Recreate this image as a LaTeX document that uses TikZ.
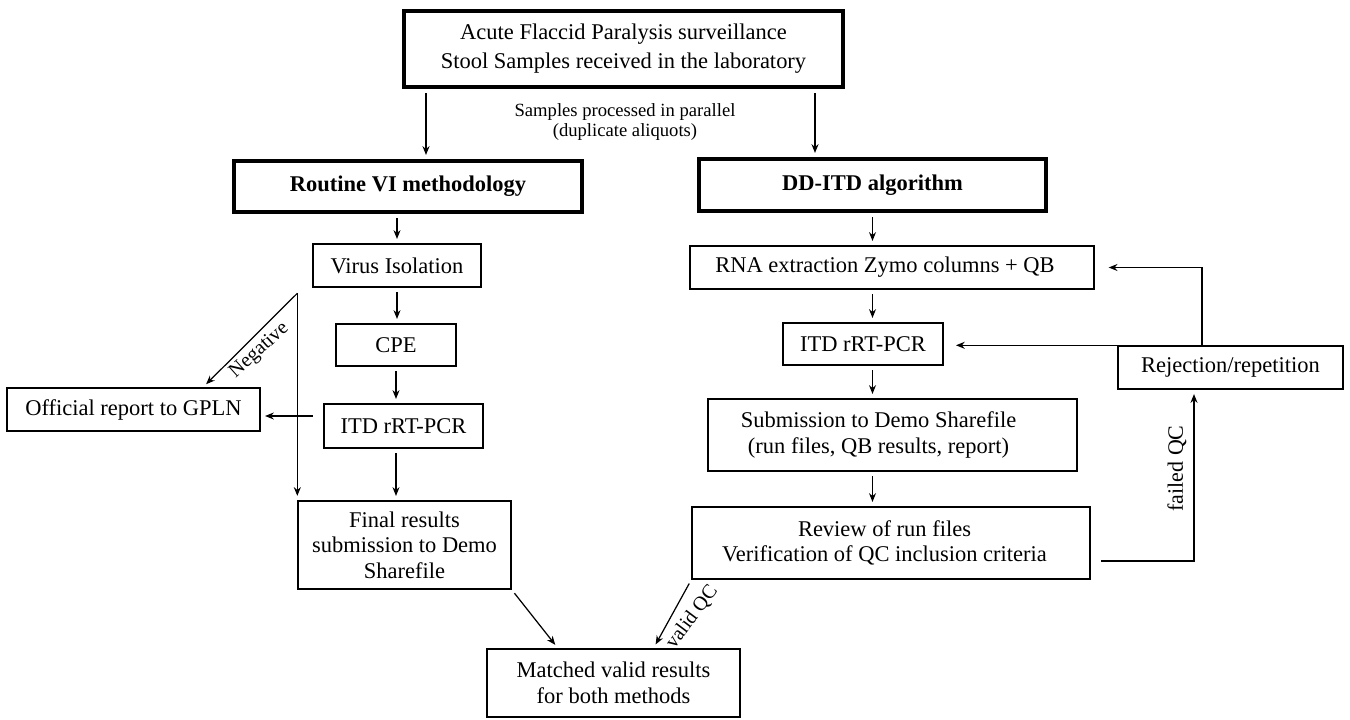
\documentclass[tikz,border=0pt]{standalone}
\usepackage{fontspec}
\setmainfont{Liberation Serif}
\usetikzlibrary{arrows.meta, calc}

\newcommand{\boxsize}{\fontsize{12.8}{14.5}\selectfont}
\newcommand{\labsize}{\fontsize{11.4}{13}\selectfont}

\begin{document}
\begin{tikzpicture}[x=0.02cm, y=-0.02cm,
  box/.style={draw, line width=0.8pt, align=center, inner sep=0pt, font=\boxsize},
  headbox/.style={box, line width=1.9pt, font=\boxsize\bfseries},
  arr/.style={->, >={Stealth[length=5pt, width=4pt]}, line width=0.7pt, shorten <=2.5pt, shorten >=2.5pt},
  lab/.style={font=\labsize, inner sep=1.5pt}]
\useasboundingbox (0,0) rectangle (1350,720);
\node (afp) at (623.5,49) [box, line width=1.9pt, minimum width=8.78cm, minimum height=1.52cm, font=\fontsize{12.8}{16.5}\selectfont] {Acute Flaccid Paralysis surveillance\\Stool Samples received in the laboratory};
\node (par) at (625,122) [font=\fontsize{10.6}{11.4}\selectfont, align=center] {Samples processed in parallel\\(duplicate aliquots)};
\node (routine) at (408,186.5) [headbox, minimum width=6.96cm, minimum height=1.02cm] {Routine VI methodology};
\node (ddtd) at (872.5,185) [headbox, minimum width=6.94cm, minimum height=1.04cm] {DD-ITD algorithm};
\node (vi) at (397,265.5) [box, minimum width=3.36cm, minimum height=0.86cm] {Virus Isolation};
\node (cpe) at (396,345) [box, minimum width=2.4cm, minimum height=0.84cm] {CPE};
\node (itdl) at (403.5,426) [box, minimum width=3.18cm, minimum height=0.88cm] {ITD rRT-PCR};
\node (gpln) at (133.5,409.5) [box, minimum width=5.06cm, minimum height=0.86cm] {Official report to GPLN};
\node (final) at (404.5,545) [box, minimum width=4.26cm, minimum height=1.76cm] {Final results\\submission to Demo\\Sharefile};
\node (match) at (613.5,683) [box, minimum width=5.06cm, minimum height=1.36cm] {Matched valid results\\for both methods};
\node (rna) at (892,267.5) [box, minimum width=8.08cm, minimum height=0.86cm] {RNA extraction Zymo columns + QB\hspace*{0.28cm}};
\node (itdr) at (863,344) [box, minimum width=3.2cm, minimum height=0.84cm] {ITD rRT-PCR};
\node (subm) at (892.5,435) [box, minimum width=7.38cm, minimum height=1.44cm] {Submission to Demo Sharefile\hspace*{0.56cm}\\(run files, QB results, report)\hspace*{0.56cm}};
\node (review) at (891,543) [box, minimum width=7.96cm, minimum height=1.44cm] {Review of run files\hspace*{0.26cm}\\Verification of QC inclusion criteria\hspace*{0.26cm}};
\node (rej) at (1230.5,367.5) [box, minimum width=4.5cm, minimum height=0.86cm] {Rejection/repetition};
\coordinate (lft) at ($(routine.north)+(18,0)$);
\coordinate (rgt) at ($(ddtd.north)+(-57.5,0)$);
\draw[arr] (afp.south -| lft) -- (lft);
\draw[arr] (afp.south -| rgt) -- (rgt);
\draw[arr] (routine.south -| vi.north) -- (vi.north);
\draw[arr] (vi.south) -- (cpe.north -| vi.south);
\draw[arr] (cpe.south) -- (itdl.north -| cpe.south);
\draw[arr] (itdl.south -| cpe.south) -- (final.north -| cpe.south);
\coordinate (rep) at ($(itdl.west)+(0,-10)$);
\draw[arr, shorten <=6pt] (rep) -- (gpln.east |- rep);
\coordinate (split) at ($(final.north west)+(0,-207)$);
\draw[arr, shorten <=0pt] (split) -- ($(gpln.north)+(69.5,0)$) node[lab, pos=0.5, rotate=42, anchor=north, inner sep=2.5pt] {Negative};
\draw[arr, shorten <=0pt] (split) -- (final.north west);
\draw[arr] (final.south east) -- ($(match.north)+(-55.5,0)$);
\draw[arr] (review.south west) -- ($(match.north)+(40,0)$) node[lab, pos=0.38, rotate=53, anchor=north, inner sep=5.5pt] {valid QC};
\draw[arr] (ddtd.south) -- (rna.north -| ddtd.south);
\draw[arr] (rna.south -| ddtd.south) -- (itdr.north -| ddtd.south);
\draw[arr] (itdr.south -| ddtd.south) -- (subm.north -| ddtd.south);
\draw[arr] (subm.south -| ddtd.south) -- (review.north -| ddtd.south);
\draw[arr] ($(review.east)+(6,18)$) -| ($(rej.south)+(-36.5,0)$) node[lab, pos=0.77, rotate=90, anchor=south, inner sep=4pt, font=\fontsize{12.5}{14}\selectfont] {failed QC};
\draw[arr, shorten <=0pt, shorten >=8pt] ($(rej.north)+(-28.5,0)$) |- (rna.east);
\draw[arr, shorten <=0pt, shorten >=7pt] ($(rej.north west)+(24,0)$) -- (itdr.east |- rej.north west);
\end{tikzpicture}
\end{document}
